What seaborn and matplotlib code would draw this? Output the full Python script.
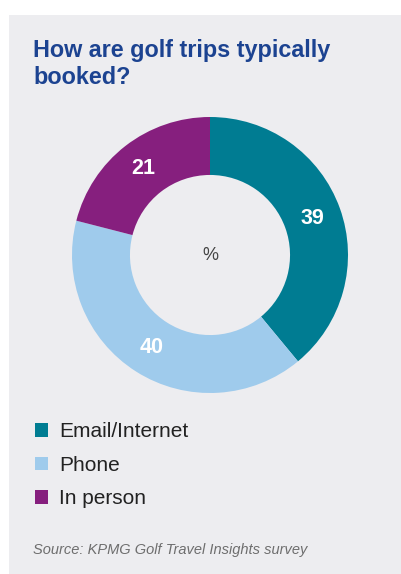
import matplotlib
matplotlib.use("Agg")
import matplotlib.pyplot as plt
import seaborn as sns
from matplotlib.patches import Rectangle

categories = ["Email/Internet", "Phone", "In person"]
shares = [39, 40, 21]
colors = ["#007c92", "#9fcbec", "#861f7e"]

title = "How are golf trips typically\nbooked?"
source = "Source: KPMG Golf Travel Insights survey"

sns.set_theme(style="white")
plt.rcParams["font.family"] = ["Liberation Sans", "DejaVu Sans"]

W, H = 402, 574
panel = "#ededf0"
fig = plt.figure(figsize=(W / 100, H / 100), dpi=100, facecolor=panel)

# white margins on top and left of the grey panel
fig.patches.append(Rectangle((0, 1 - 15 / H), 1, 15 / H, transform=fig.transFigure,
                             facecolor="white", edgecolor="none", zorder=0))
fig.patches.append(Rectangle((0, 0), 9 / W, 1, transform=fig.transFigure,
                             facecolor="white", edgecolor="none", zorder=0))

fig.text(33 / W, 1 - 39 / H, title, ha="left", va="top", fontsize=16.8, fontweight="bold",
         color="#1c4391", linespacing=1.2)

# donut
cx, cy, r = 210, 255, 138
ax = fig.add_axes([(cx - r) / W, 1 - (cy + r) / H, 2 * r / W, 2 * r / H])
ax.set_zorder(2)
ax.set_facecolor("none")
wedges, _, autotexts = ax.pie(
    shares,
    colors=colors,
    startangle=90,
    counterclock=False,
    autopct=lambda p: f"{p:.0f}",
    pctdistance=0.79,
    wedgeprops=dict(width=0.42, edgecolor="none"),
    textprops=dict(color="white", fontsize=15.5, fontweight="bold"),
)
ax.text(0, 0, "%", ha="center", va="center", fontsize=13, color="#444444")
ax.set_xlim(-1, 1)
ax.set_ylim(-1, 1)
ax.set_aspect("equal")
ax.axis("off")

leg = fig.legend(
    wedges, categories,
    loc="upper left", bbox_to_anchor=(27 / W, 1 - 414 / H),
    frameon=False, fontsize=15,
    handlelength=0.63, handleheight=0.63, handletextpad=0.5,
    labelspacing=0.7, borderaxespad=0,
)
for t in leg.get_texts():
    t.set_color("#222222")

fig.text(33 / W, 1 - 550 / H, source, ha="left", va="center", fontsize=10.5,
         style="italic", color="#6e6e6e")

fig.savefig("out.png", dpi=100, facecolor=fig.get_facecolor())
